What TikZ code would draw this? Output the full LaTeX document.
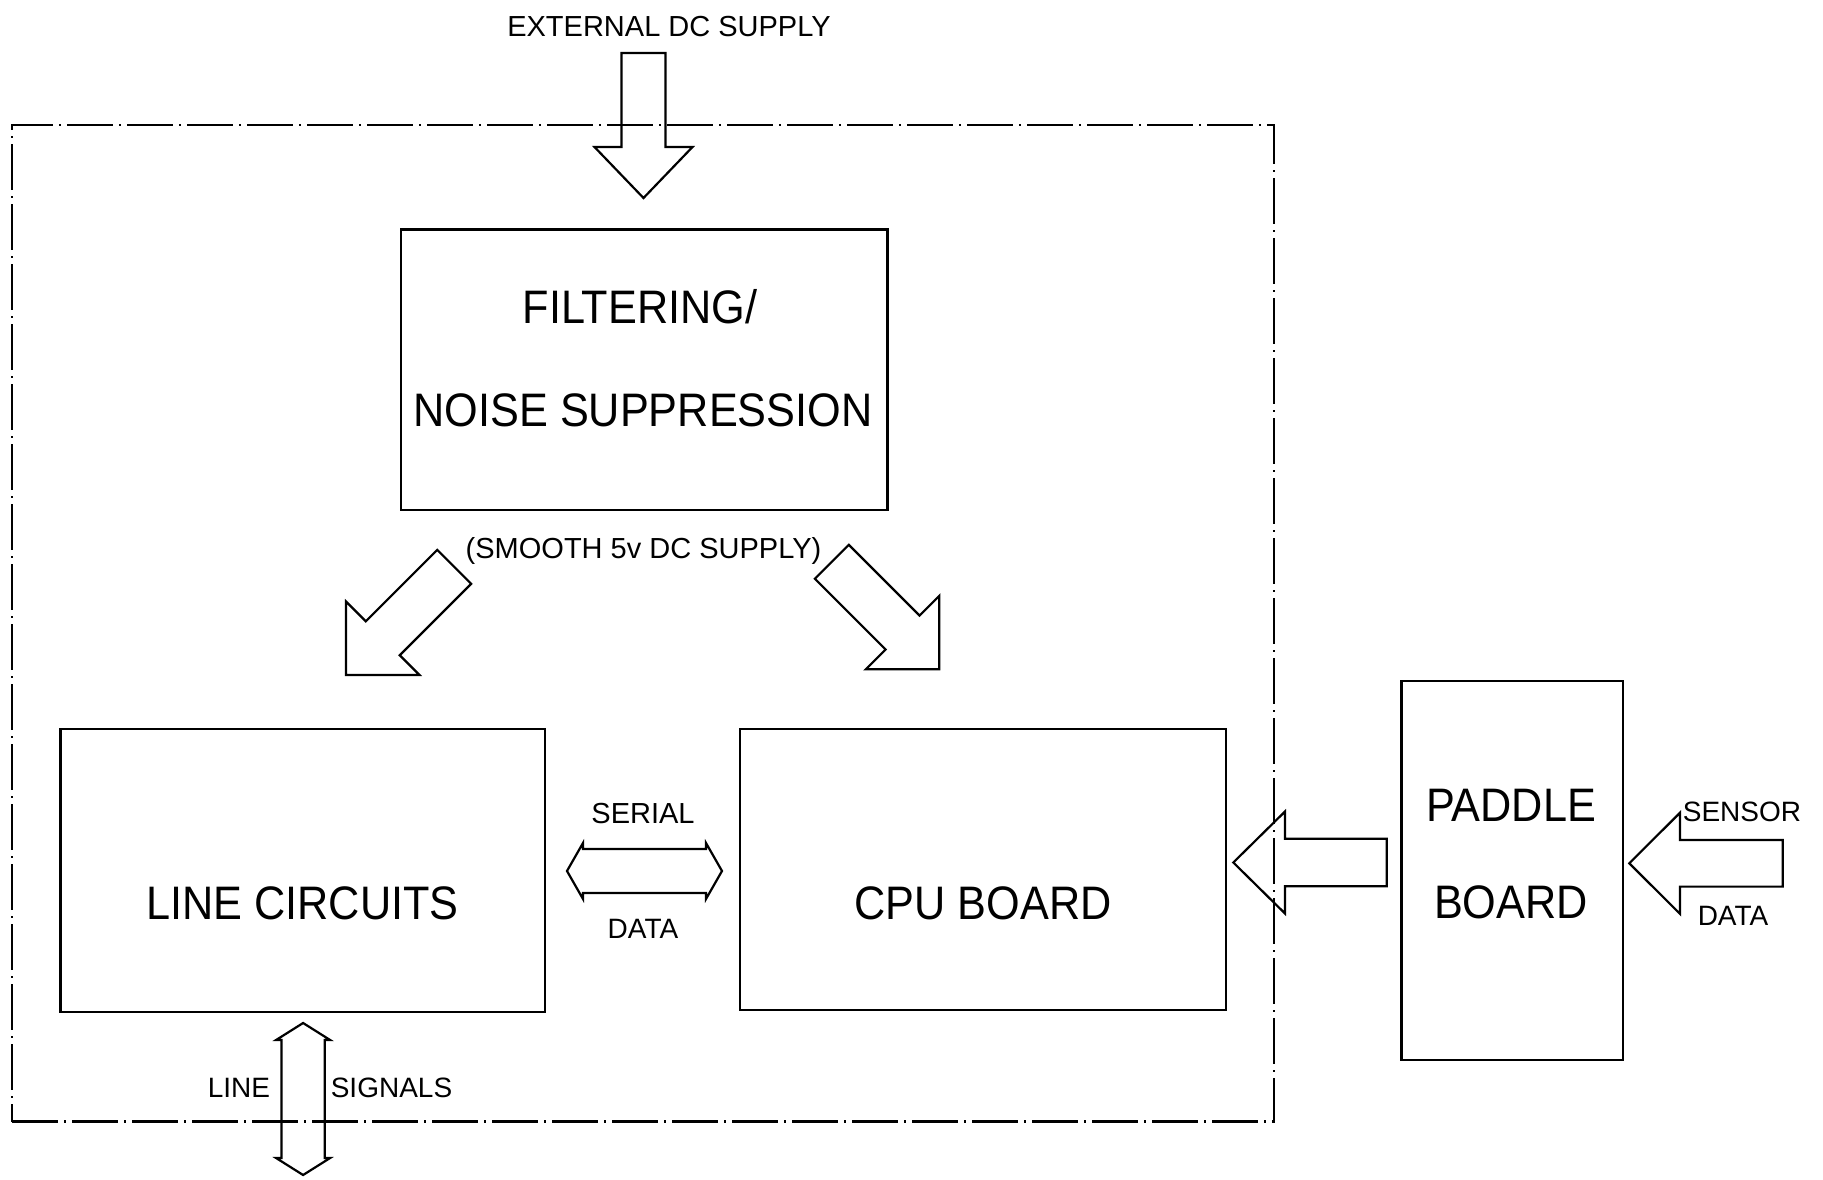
\documentclass[tikz,border=0pt]{standalone}
\usepackage{fontspec}
\setmainfont{Liberation Sans}
\usetikzlibrary{calc}

\tikzset{
  frameline/.style={draw, line width=2.5pt, dash pattern=on 46pt off 6pt on 2pt off 6pt, rectangle, inner sep=0pt},
  boxline/.style={draw, line width=2.4pt, rectangle, inner sep=0pt},
  arrowline/.style={line width=2.2pt, line join=miter},
  boxtext/.style={font=\fontsize{47}{47}\selectfont, inner sep=0pt, anchor=base},
  smalltext/.style={font=\fontsize{28}{28}\selectfont, inner sep=0pt, anchor=base},
}
% board titles are set slightly condensed
\newcommand\condensed[1]{\scalebox{0.92}[1]{#1}}

% block arrow: #1 tip, #2 direction, #3 total length, #4 shaft half-width, #5 head half-width, #6 head length
\newcommand\blockarrow[6]{%
  \draw[arrowline, shift={(#1)}, rotate=#2]
    (0,0) -- (-#6,#5) -- (-#6,#4) -- (-#3,#4) -- (-#3,-#4) -- (-#6,-#4) -- (-#6,-#5) -- cycle;}
% double block arrow: #1 first tip, #2 direction towards it, #3 tip-to-tip length, #4 shaft half-width, #5 head half-width, #6 head length
\newcommand\dblarrow[6]{%
  \draw[arrowline, shift={(#1)}, rotate=#2]
    (0,0) -- (-#6,#5) -- (-#6,#4) -- (-#3+#6,#4) -- (-#3+#6,#5) -- (-#3,0)
    -- (-#3+#6,-#5) -- (-#3+#6,-#4) -- (-#6,-#4) -- (-#6,-#5) -- cycle;}

\begin{document}
\begin{tikzpicture}[x=1pt, y=-1pt]
  \useasboundingbox (0,0) rectangle (1823,1180);
  \fill[white] (0,0) rectangle (1823,1180);

  % enclosure of the unit
  \node[frameline, minimum width=1262pt, minimum height=996.7pt] (unit) at (643,623.35) {};

  % boards
  \node[boxline, minimum width=486.6pt, minimum height=280.7pt] (filt) at (644,369.65) {};
  \node[boxline, minimum width=484.5pt, minimum height=282.7pt] (line) at (302.75,870.35) {};
  \node[boxline, minimum width=486pt, minimum height=281pt] (cpu) at (983,869.5) {};
  \node[boxline, minimum width=221.2pt, minimum height=379pt] (paddle) at (1512.1,870.5) {};

  % board titles
  \node[boxtext] (filtA) at (640,323.5) {\condensed{FILTERING/}};
  \node[boxtext] (filtB) at (643,426) {\condensed{NOISE SUPPRESSION}};
  \node[boxtext] (lineT) at (302.5,919) {\condensed{LINE CIRCUITS}};
  \node[boxtext] (cpuT) at (983,919) {\condensed{CPU BOARD}};
  \node[boxtext] (padA) at (1511,821) {\condensed{PADDLE}};
  \node[boxtext] (padB) at (1511,918) {\condensed{BOARD}};

  % signal labels
  \node[smalltext, font=\fontsize{29}{29}\selectfont] (ext) at (669,37) {EXTERNAL DC SUPPLY};
  \node[smalltext, font=\fontsize{29}{29}\selectfont] (smooth) at (643.5,558) {(SMOOTH 5v DC SUPPLY)};
  \node[smalltext, font=\fontsize{29}{29}\selectfont] (serA) at (643,823) {SERIAL};
  \node[smalltext] (serB) at (643,938) {DATA};
  \node[smalltext] (senA) at (1742,821) {SENSOR};
  \node[smalltext] (senB) at (1733,925) {DATA};
  \node[smalltext] (sigA) at (239,1097) {LINE};
  \node[smalltext] (sigB) at (391.5,1097) {SIGNALS};

  % arrow tips
  \coordinate (extTip) at (643.5,198);
  \coordinate (leftTip) at (346,675);
  \coordinate (rightTip) at (939.3,669.3);
  \coordinate (cpuTip) at (1233.3,862.5);
  \coordinate (senTip) at (1629.3,863.3);
  \coordinate (serTip) at (722,871);
  \coordinate (sigTip) at (303.1,1023);

  % supply arrows
  \blockarrow{extTip}{-90}{145}{22}{49}{51}
  \blockarrow{leftTip}{225}{153}{24}{52}{52}
  \blockarrow{rightTip}{-45}{152}{24}{52}{52}
  % data arrows
  \blockarrow{cpuTip}{180}{153.4}{23.7}{51}{51.7}
  \blockarrow{senTip}{180}{153.4}{23.3}{50.6}{50.7}
  \dblarrow{serTip}{0}{155}{22}{28}{16}
  \dblarrow{sigTip}{90}{152}{21.7}{27}{17}
\end{tikzpicture}
\end{document}
